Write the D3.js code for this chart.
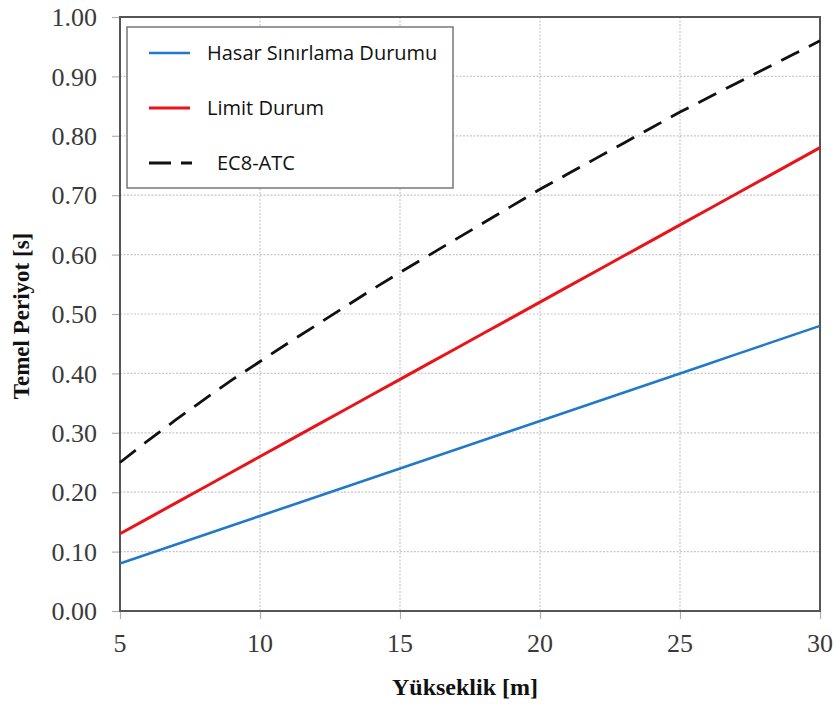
<!DOCTYPE html>
<html><head><meta charset="utf-8">
<script src="https://cdn.jsdelivr.net/npm/d3@7"></script>
<style>body{margin:0;background:#fff}</style>
</head><body>
<svg id="c" width="836" height="704"></svg>
<script>
const heights = [5,6,7,8,9,10,11,12,13,14,15,16,17,18,19,20,21,22,23,24,25,26,27,28,29,30];
const hasar   = [0.08,0.096,0.112,0.128,0.144,0.16,0.176,0.192,0.208,0.224,0.24,0.256,0.272,0.288,0.304,0.32,0.336,0.352,0.368,0.384,0.40,0.416,0.432,0.448,0.464,0.48];
const limit   = [0.13,0.156,0.182,0.208,0.234,0.26,0.286,0.312,0.338,0.364,0.39,0.416,0.442,0.468,0.494,0.52,0.546,0.572,0.598,0.624,0.65,0.676,0.702,0.728,0.754,0.78];
const ec8     = [0.25,0.287,0.322,0.356,0.389,0.42,0.451,0.481,0.511,0.541,0.57,0.598,0.626,0.654,0.682,0.71,0.736,0.762,0.788,0.814,0.84,0.864,0.888,0.912,0.936,0.96];
const xTicks = [5,10,15,20,25,30];
const yTicks = [0,0.1,0.2,0.3,0.4,0.5,0.6,0.7,0.8,0.9,1.0];
const seriesNames = ["Hasar Sınırlama Durumu","Limit Durum","EC8-ATC"];
const seriesColors = ["#2279c8","#e8141a","#111111"];

const SERIF = "Liberation Serif, Times New Roman, serif";
const svg = d3.select("#c");
const L=120, R=820, T=17, B=611;
const x = d3.scaleLinear().domain([5,30]).range([L,R]);
const y = d3.scaleLinear().domain([0,1]).range([B,T]);

// grid
svg.append("g").selectAll("line").data(yTicks).join("line")
  .attr("x1",L).attr("x2",R).attr("y1",d=>y(d)).attr("y2",d=>y(d))
  .attr("stroke","#c8c8c8").attr("stroke-width",1.2).attr("stroke-dasharray","2,1.5");
svg.append("g").selectAll("line").data(xTicks).join("line")
  .attr("y1",T).attr("y2",B).attr("x1",d=>x(d)).attr("x2",d=>x(d))
  .attr("stroke","#c8c8c8").attr("stroke-width",1.2).attr("stroke-dasharray","2,1.5");

// axes (ticks only, labels drawn separately)
const yAxis = d3.axisLeft(y).tickValues(yTicks).tickFormat("").tickSize(8);
const xAxis = d3.axisBottom(x).tickValues(xTicks).tickFormat("").tickSize(8);
const gy = svg.append("g").attr("transform",`translate(${L},0)`).call(yAxis);
const gx = svg.append("g").attr("transform",`translate(0,${B})`).call(xAxis);
[gy,gx].forEach(g=>{
  g.select(".domain").remove();
  g.selectAll(".tick line").attr("stroke","#b0b0b0").attr("stroke-width",1.2);
});
const fmt = d3.format(".2f");
svg.append("g").selectAll("text").data(yTicks).join("text")
  .attr("x",97).attr("y",d=>y(d)).attr("dy","0.35em").attr("text-anchor","end")
  .style("font-family",SERIF).style("font-size","26px").style("fill","#3a3a3a")
  .text(d=>fmt(d));
svg.append("g").selectAll("text").data(xTicks).join("text")
  .attr("x",d=>x(d)).attr("y",652).attr("text-anchor","middle")
  .style("font-family",SERIF).style("font-size","26px").style("fill","#3a3a3a")
  .text(d=>d);

// frame
svg.append("rect").attr("x",L).attr("y",T).attr("width",R-L).attr("height",B-T)
  .attr("fill","none").attr("stroke","#555").attr("stroke-width",2);

// lines
const line = d3.line().x((d,i)=>x(heights[i])).y(d=>y(d));
const allSeries=[hasar,limit,ec8];
const widths=[2.6,3,2.8];
allSeries.forEach((s,k)=>{
  svg.append("path").datum(s).attr("d",line).attr("fill","none")
    .attr("stroke",seriesColors[k]).attr("stroke-width",widths[k])
    .attr("stroke-dasharray",k===2?"20,11":null);
});

// legend
svg.append("rect").attr("x",127).attr("y",27).attr("width",326).attr("height",161)
  .attr("fill","#fff").attr("stroke","#777").attr("stroke-width",1.5);
const legY=[53,108,163];
const legTX=[207,207,217];
seriesNames.forEach((n,k)=>{
  svg.append("line").attr("x1",149).attr("x2",k===2?192:190).attr("y1",legY[k]).attr("y2",legY[k])
    .attr("stroke",seriesColors[k]).attr("stroke-width",k===0?2.6:3)
    .attr("stroke-dasharray",k===2?"22,10":null);
  svg.append("text").attr("x",legTX[k]).attr("y",legY[k]+7).text(n)
    .style("font-family","Open Sans, Noto Sans, sans-serif").style("font-size","20px").style("fill","#111");
});

// axis titles
svg.append("text").attr("x",465).attr("y",695).attr("text-anchor","middle")
  .style("font-family",SERIF).style("font-weight","bold")
  .style("font-size","24px").style("fill","#111").text("Yükseklik [m]");
svg.append("text").attr("transform","translate(29,316) rotate(-90)").attr("text-anchor","middle")
  .style("font-family",SERIF).style("font-weight","bold")
  .style("font-size","23px").style("fill","#111").text("Temel Periyot [s]");
</script>
</body></html>
